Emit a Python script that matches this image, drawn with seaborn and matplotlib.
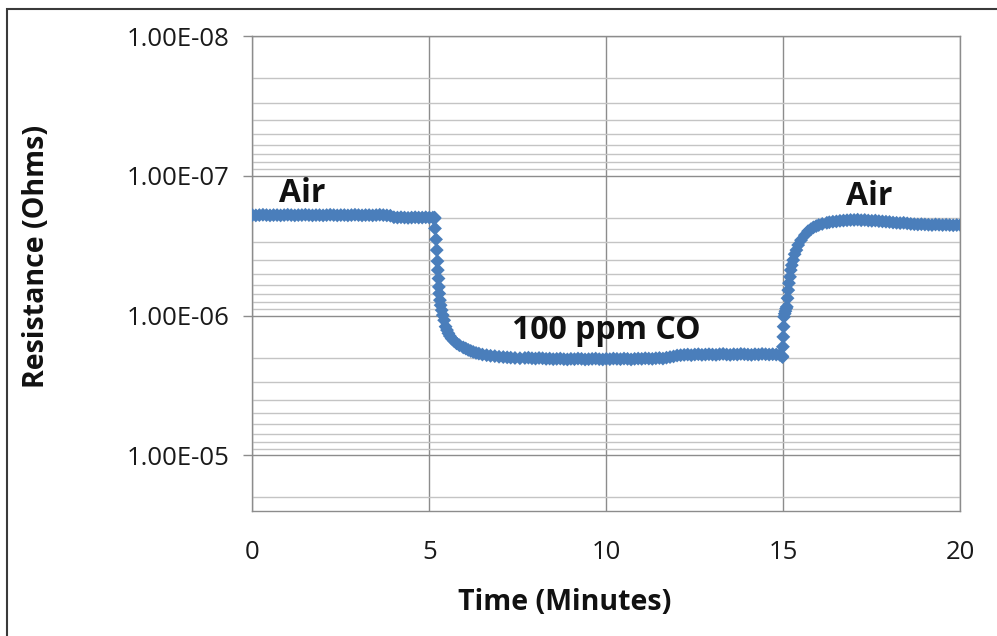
import numpy as np
import pandas as pd
import matplotlib
matplotlib.use("Agg")
import matplotlib.pyplot as plt
from matplotlib.patches import Rectangle
from matplotlib.ticker import LogLocator, FixedLocator, FixedFormatter, NullFormatter
import seaborn as sns

# ---------------- data ----------------
air1_time = [0.0, 0.1, 0.2, 0.3, 0.4, 0.5, 0.6, 0.7, 0.8, 0.9,
             1.0, 1.1, 1.2, 1.3, 1.4, 1.5, 1.6, 1.7, 1.8, 1.9,
             2.0, 2.1, 2.2, 2.3, 2.4, 2.5, 2.6, 2.7, 2.8, 2.9,
             3.0, 3.1, 3.2, 3.3, 3.4, 3.5, 3.6, 3.7, 3.8, 3.9,
             4.0, 4.1, 4.2, 4.3, 4.4, 4.5, 4.6, 4.7, 4.8, 4.9,
             5.0, 5.1, 5.15]
air1_res = [1.91e-7, 1.92e-7, 1.91e-7, 1.90e-7, 1.91e-7, 1.92e-7, 1.91e-7, 1.91e-7, 1.92e-7, 1.91e-7,
            1.90e-7, 1.91e-7, 1.92e-7, 1.91e-7, 1.91e-7, 1.90e-7, 1.91e-7, 1.92e-7, 1.91e-7, 1.91e-7,
            1.92e-7, 1.91e-7, 1.90e-7, 1.91e-7, 1.92e-7, 1.91e-7, 1.91e-7, 1.92e-7, 1.91e-7, 1.90e-7,
            1.91e-7, 1.92e-7, 1.91e-7, 1.91e-7, 1.92e-7, 1.91e-7, 1.90e-7, 1.91e-7, 1.92e-7, 1.93e-7,
            1.98e-7, 1.99e-7, 1.98e-7, 1.99e-7, 2.00e-7, 1.99e-7, 1.98e-7, 1.99e-7, 1.99e-7, 1.98e-7,
            1.99e-7, 1.99e-7, 1.99e-7]

drop_time = [5.15, 5.16, 5.19, 5.21, 5.23, 5.24, 5.26, 5.27, 5.28, 5.30,
             5.32, 5.35, 5.38, 5.42, 5.46, 5.50, 5.54, 5.58, 5.63, 5.70,
             5.77, 5.85, 5.96, 6.03, 6.10, 6.17, 6.24, 6.32, 6.40, 6.50,
             6.62, 6.73, 6.85, 6.97, 7.09, 7.20, 7.30, 7.42, 7.56]
drop_res = [2.02e-7, 2.38e-7, 2.85e-7, 3.40e-7, 4.08e-7, 4.73e-7, 5.43e-7, 6.23e-7, 6.95e-7, 7.76e-7,
            8.43e-7, 9.15e-7, 9.93e-7, 1.08e-6, 1.20e-6, 1.27e-6, 1.34e-6, 1.40e-6, 1.46e-6, 1.52e-6,
            1.58e-6, 1.63e-6, 1.69e-6, 1.72e-6, 1.76e-6, 1.79e-6, 1.82e-6, 1.85e-6, 1.87e-6, 1.90e-6,
            1.92e-6, 1.94e-6, 1.95e-6, 1.97e-6, 1.98e-6, 1.99e-6, 2.00e-6, 2.01e-6, 2.02e-6]

co_time = [7.7, 7.8, 7.9, 8.0, 8.1, 8.2, 8.3, 8.4, 8.5, 8.6, 8.7, 8.8, 8.9,
           9.0, 9.1, 9.2, 9.3, 9.4, 9.5, 9.6, 9.7, 9.8, 9.9,
           10.0, 10.1, 10.2, 10.3, 10.4, 10.5, 10.6, 10.7, 10.8, 10.9,
           11.0, 11.1, 11.2, 11.3, 11.4, 11.5, 11.6, 11.7, 11.8, 11.9,
           12.0, 12.1, 12.2, 12.3, 12.4, 12.5, 12.6, 12.7, 12.8, 12.9,
           13.0, 13.1, 13.2, 13.3, 13.4, 13.5, 13.6, 13.7, 13.8, 13.9,
           14.0, 14.1, 14.2, 14.3, 14.4, 14.5, 14.6, 14.7, 14.8, 14.9, 14.97]
co_res = [2.01e-6, 2.00e-6, 2.02e-6, 2.03e-6, 2.01e-6, 2.02e-6, 2.04e-6, 2.03e-6, 2.05e-6, 2.04e-6, 2.03e-6, 2.05e-6, 2.06e-6,
          2.04e-6, 2.05e-6, 2.03e-6, 2.04e-6, 2.06e-6, 2.05e-6, 2.04e-6, 2.03e-6, 2.05e-6, 2.06e-6,
          2.04e-6, 2.05e-6, 2.03e-6, 2.04e-6, 2.05e-6, 2.03e-6, 2.04e-6, 2.06e-6, 2.04e-6, 2.03e-6,
          2.04e-6, 2.02e-6, 2.03e-6, 2.04e-6, 2.02e-6, 2.01e-6, 2.03e-6, 2.00e-6, 1.98e-6, 1.96e-6,
          1.93e-6, 1.92e-6, 1.91e-6, 1.90e-6, 1.92e-6, 1.90e-6, 1.89e-6, 1.91e-6, 1.90e-6, 1.89e-6,
          1.90e-6, 1.91e-6, 1.89e-6, 1.88e-6, 1.90e-6, 1.91e-6, 1.89e-6, 1.90e-6, 1.88e-6, 1.89e-6,
          1.90e-6, 1.91e-6, 1.89e-6, 1.90e-6, 1.88e-6, 1.89e-6, 1.90e-6, 1.89e-6, 1.90e-6, 1.91e-6, 1.95e-6]

rise_time = [14.98, 14.99, 15.00, 15.01, 15.02, 15.04, 15.06, 15.08, 15.10, 15.12,
             15.14, 15.16, 15.19, 15.21, 15.24, 15.28, 15.32, 15.37, 15.42, 15.50,
             15.61, 15.70, 15.78, 15.85, 15.93, 16.00, 16.10, 16.23, 16.30, 16.40,
             16.50, 16.60, 16.70, 16.80, 16.90]
rise_res = [1.98e-6, 1.67e-6, 1.42e-6, 1.20e-6, 1.02e-6, 9.70e-7, 9.30e-7, 8.90e-7, 8.66e-7, 7.51e-7,
            6.58e-7, 5.86e-7, 5.28e-7, 4.73e-7, 4.36e-7, 4.01e-7, 3.64e-7, 3.40e-7, 3.13e-7, 2.89e-7,
            2.66e-7, 2.49e-7, 2.41e-7, 2.34e-7, 2.29e-7, 2.25e-7, 2.21e-7, 2.17e-7, 2.15e-7, 2.13e-7,
            2.12e-7, 2.10e-7, 2.09e-7, 2.08e-7, 2.07e-7]

air2_time = [17.0, 17.1, 17.2, 17.3, 17.4, 17.5, 17.6, 17.7, 17.8, 17.9,
             18.0, 18.1, 18.2, 18.3, 18.4, 18.5, 18.6, 18.7, 18.8, 18.9,
             19.0, 19.1, 19.2, 19.3, 19.4, 19.5, 19.6, 19.7, 19.8, 19.9, 20.0]
air2_res = [2.07e-7, 2.06e-7, 2.08e-7, 2.07e-7, 2.09e-7, 2.10e-7, 2.09e-7, 2.11e-7, 2.12e-7, 2.13e-7,
            2.14e-7, 2.16e-7, 2.17e-7, 2.18e-7, 2.17e-7, 2.19e-7, 2.21e-7, 2.22e-7, 2.23e-7, 2.22e-7,
            2.23e-7, 2.24e-7, 2.25e-7, 2.23e-7, 2.24e-7, 2.25e-7, 2.24e-7, 2.25e-7, 2.26e-7, 2.25e-7, 2.25e-7]

y_ticks = [1e-8, 1e-7, 1e-6, 1e-5]
y_tick_labels = ["1.00E-08", "1.00E-07", "1.00E-06", "1.00E-05"]
x_ticks = [0, 5, 10, 15, 20]
x_tick_labels = ["0", "5", "10", "15", "20"]

annotations = [("Air", 1.40, 1.33e-7), ("100 ppm CO", 10.0, 1.27e-6), ("Air", 17.42, 1.40e-7)]

# ---------------- build table ----------------
df = pd.DataFrame({
    "Time (Minutes)": air1_time + drop_time + co_time + rise_time + air2_time,
    "Resistance (Ohms)": air1_res + drop_res + co_res + rise_res + air2_res,
})

# ---------------- style ----------------
sns.set_theme(style="white")
plt.rcParams["font.family"] = ["Open Sans", "DejaVu Sans"]

W, H = 997, 636
fig = plt.figure(figsize=(W / 100, H / 100), dpi=100)
ax = fig.add_axes([252.3 / W, 1 - 511 / H, (960.3 - 252.3) / W, (511 - 36) / H])

grid_major = "#8c8c8c"
grid_minor = "#c4c4c4"
blue = "#4a7ebb"

sns.scatterplot(data=df, x="Time (Minutes)", y="Resistance (Ohms)", ax=ax,
                marker="D", s=50, color=blue, linewidth=0, edgecolor="none",
                legend=False, zorder=3)

ax.set_yscale("log")
ax.set_ylim(2.5e-5, 1e-8)
ax.set_xlim(0, 20)

ax.yaxis.set_major_locator(FixedLocator(y_ticks))
ax.yaxis.set_major_formatter(FixedFormatter(y_tick_labels))
ax.yaxis.set_minor_locator(LogLocator(base=10, subs=np.arange(2, 10)))
ax.yaxis.set_minor_formatter(NullFormatter())
ax.xaxis.set_major_locator(FixedLocator(x_ticks))
ax.xaxis.set_major_formatter(FixedFormatter(x_tick_labels))

ax.grid(True, which="major", axis="both", color=grid_major, linewidth=1.0, zorder=0)
ax.grid(True, which="minor", axis="y", color=grid_minor, linewidth=1.0, zorder=0)
ax.set_axisbelow(True)

for sp in ax.spines.values():
    sp.set_color(grid_major)
    sp.set_linewidth(1.0)

ax.tick_params(axis="y", which="major", direction="out", length=6.5, width=1.0,
               color=grid_major, pad=10, labelsize=18.5, labelcolor="#1a1a1a", left=True)
ax.tick_params(axis="y", which="minor", length=0)
ax.tick_params(axis="x", which="major", length=0, pad=21, labelsize=18.5, labelcolor="#1a1a1a")

ax.set_xlabel("")
ax.set_ylabel("")
fig.text(565 / W, 1 - 603 / H, "Time (Minutes)", ha="center", va="center",
         fontsize=20.5, fontweight="bold", color="#111111")
fig.text(37 / W, 1 - 256 / H, "Resistance (Ohms)", ha="center", va="center",
         rotation=90, fontsize=20.5, fontweight="bold", color="#111111")

for txt, tx, ty in annotations:
    ax.text(tx, ty, txt, ha="center", va="center", fontsize=23, fontweight="bold",
            color="#111111", zorder=4)

# outer chart frame (partially cropped, as in the reference)
fig.patches.append(Rectangle((7 / W, -0.2), 1.2, 1 - 9 / H + 0.2, transform=fig.transFigure,
                             fill=False, edgecolor="#3a3a3a", linewidth=1.5, zorder=10))

fig.savefig("out.png", dpi=100)
